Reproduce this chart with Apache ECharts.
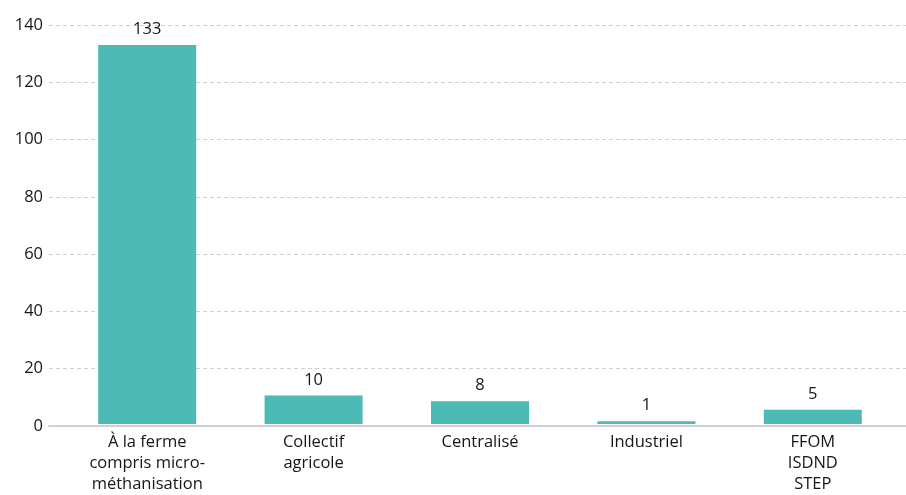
<!DOCTYPE html>
<html>
<head>
<meta charset="utf-8">
<script src="https://cdn.jsdelivr.net/npm/echarts@6/dist/echarts.min.js"></script>
<style>
  html, body { margin: 0; padding: 0; background: #fff; }
  #chart { width: 906px; height: 495px; }
</style>
</head>
<body>
<div id="chart"></div>
<script>
var categories = ['À la ferme\ncompris micro-\nméthanisation', 'Collectif\nagricole', 'Centralisé', 'Industriel', 'FFOM\nISDND\nSTEP']
var values = [133, 10, 8, 1, 5]
var yTicks = [0, 20, 40, 60, 80, 100, 120, 140]

var textColor = '#161616'
var fontFamily = '"Open Sans", Lato, sans-serif'

var chart = echarts.init(document.getElementById('chart'))
chart.setOption({
  animation: false,
  textStyle: { fontFamily: fontFamily },
  grid: [
    // background grid: gridlines + axis line across the full width
    { left: 49, right: 0, top: 25, bottom: 69 },
    // bars
    { left: 64, right: 10, top: 25, bottom: 69 }
  ],
  xAxis: [
    {
      gridIndex: 0,
      type: 'category',
      data: categories,
      axisLine: { show: true, lineStyle: { color: '#d0d0d0', width: 2 } },
      axisTick: { show: false },
      axisLabel: { show: false }
    },
    {
      gridIndex: 1,
      type: 'category',
      data: categories,
      axisLine: { show: false },
      axisTick: { show: false },
      axisLabel: {
        color: textColor,
        fontSize: 16.5,
        lineHeight: 21,
        margin: 8,
        interval: 0
      }
    }
  ],
  yAxis: [
    {
      gridIndex: 0,
      type: 'value',
      min: yTicks[0],
      max: yTicks[yTicks.length - 1],
      interval: 20,
      axisLine: { show: false },
      axisTick: { show: false },
      axisLabel: { color: textColor, fontSize: 16.5, margin: 6 },
      splitLine: { lineStyle: { color: '#cfcfcf', type: [4, 3] } }
    },
    {
      gridIndex: 1,
      type: 'value',
      min: yTicks[0],
      max: yTicks[yTicks.length - 1],
      interval: 20,
      show: false
    }
  ],
  series: [
    {
      type: 'bar',
      xAxisIndex: 1,
      yAxisIndex: 1,
      data: values,
      barWidth: 98,
      itemStyle: { color: '#4dbab5' },
      label: {
        show: true,
        position: 'top',
        distance: 7,
        color: textColor,
        fontSize: 16.5
      }
    }
  ]
})
</script>
</body>
</html>
